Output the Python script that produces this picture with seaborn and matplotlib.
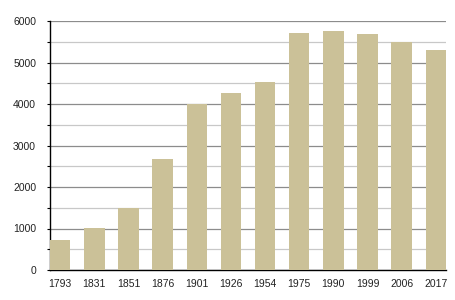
import matplotlib
matplotlib.use("Agg")
import matplotlib.pyplot as plt
from matplotlib.ticker import MultipleLocator
import seaborn as sns
import pandas as pd

years = ["1793", "1831", "1851", "1876", "1901", "1926", "1954", "1975", "1990", "1999", "2006", "2017"]
population = [730, 1020, 1500, 2680, 4000, 4265, 4530, 5710, 5760, 5680, 5500, 5300]

sns.set_style("white")
plt.rcParams['font.family'] = ['Liberation Sans', 'DejaVu Sans']

df = pd.DataFrame({"year": years, "pop": population})

fig = plt.figure(figsize=(4.55, 3.0), dpi=100)
ax = fig.add_axes([50/455, 30/300, 396/455, 249/300])

sns.barplot(data=df, x="year", y="pop", color="#CBC198", width=0.6,
            saturation=1, ax=ax, zorder=3, edgecolor="none", linewidth=0)

ax.set_xlim(-0.3, 11.3)
ax.set_ylim(0, 6000)
ax.yaxis.set_major_locator(MultipleLocator(1000))
ax.yaxis.set_minor_locator(MultipleLocator(500))
ax.grid(axis="y", which="major", color="#8c8c8c", linewidth=0.9, zorder=0)
ax.grid(axis="y", which="minor", color="#c8c8c8", linewidth=0.9, zorder=0)
ax.set_axisbelow(True)
ax.set_xlabel("")
ax.set_ylabel("")
for s in ["top", "right"]:
    ax.spines[s].set_visible(False)
for s in ["left", "bottom"]:
    ax.spines[s].set_color("black")
    ax.spines[s].set_linewidth(1.0)
ax.tick_params(axis="y", which="major", left=True, length=2, width=0.8, color="black",
               labelsize=7.5, pad=8, labelcolor="#222222")
ax.tick_params(axis="y", which="minor", left=True, length=2, width=0.8, color="black")
ax.tick_params(axis="x", bottom=False, labelsize=7.5, pad=3, labelcolor="#222222")

fig.savefig("out.png", dpi=100)
